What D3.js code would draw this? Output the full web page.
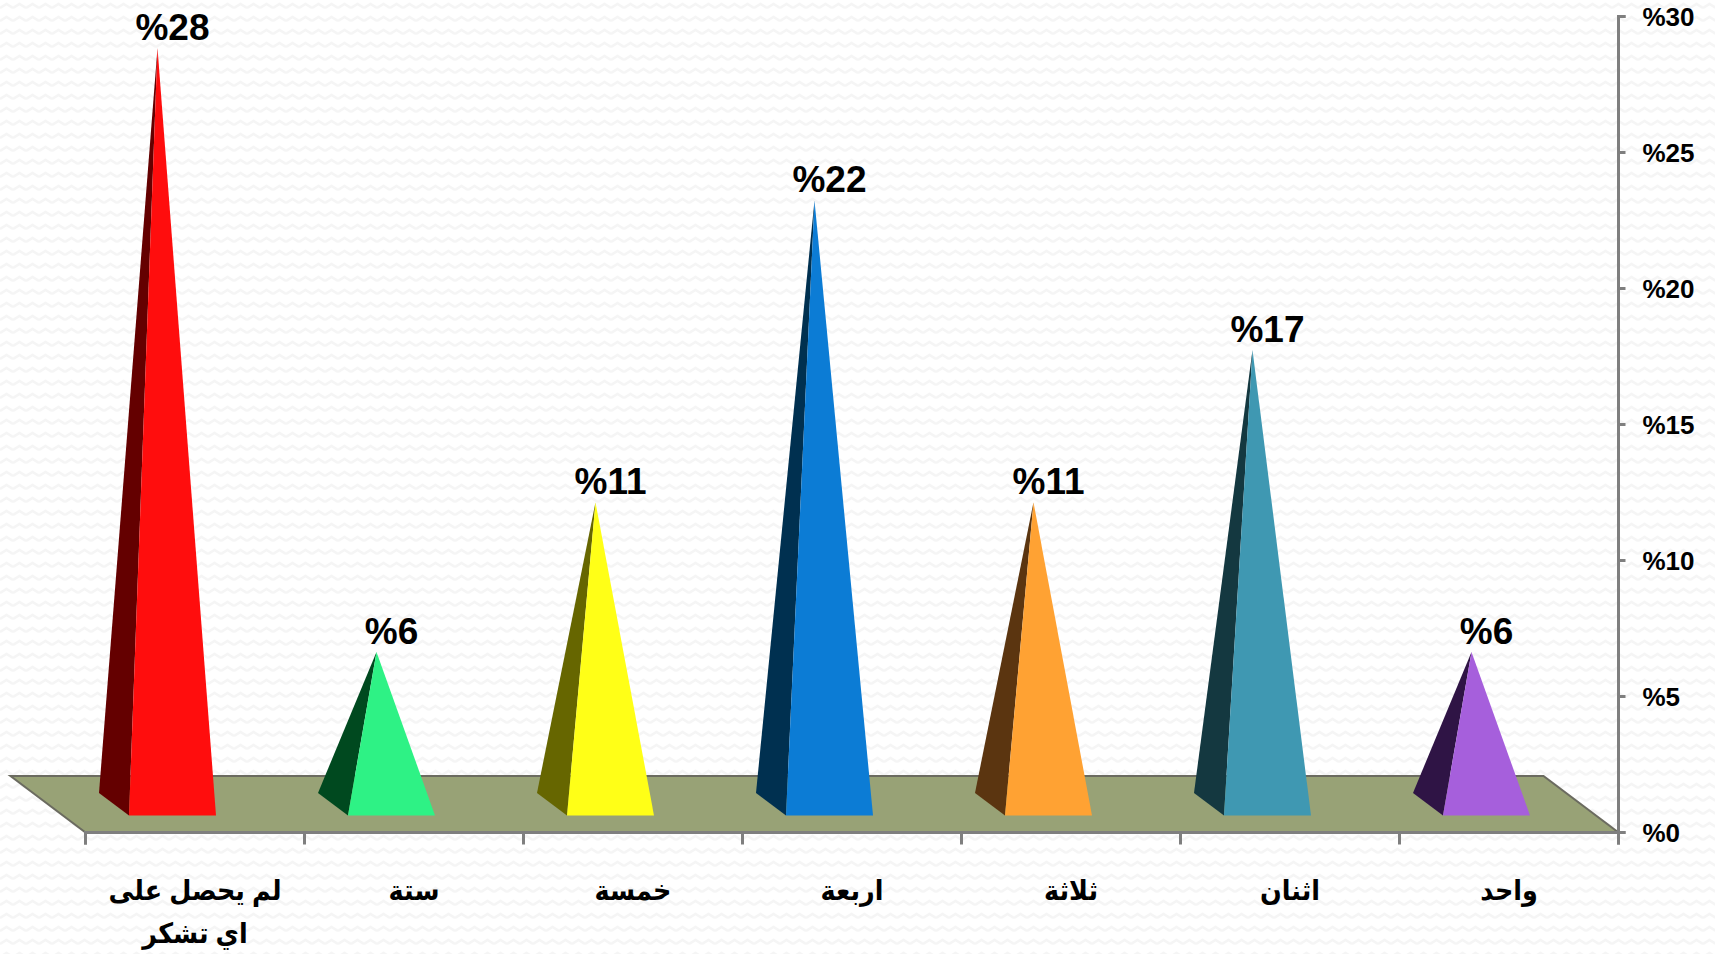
<!DOCTYPE html>
<html lang="ar">
<head>
<meta charset="UTF-8">
<title>Chart</title>
<script src="https://d3js.org/d3.v7.min.js"></script>
<style>
  html, body { margin: 0; padding: 0; background: #fff; overflow: hidden; }
  text { font-family: "Liberation Sans", "DejaVu Sans", sans-serif; font-weight: bold; fill: #000; }
</style>
</head>
<body>
<svg id="chart" width="1715" height="954"></svg>
<script>
// values
const categories = ["لم يحصل على|اي تشكر", "ستة", "خمسة", "اربعة", "ثلاثة", "اثنان", "واحد"];
const values = [27.8, 5.6, 11.1, 22.2, 11.1, 16.7, 5.6];
const valueLabels = ["%28", "%6", "%11", "%22", "%11", "%17", "%6"];
const yTicks = [0, 5, 10, 15, 20, 25, 30];
const frontColors = ["#ff0d0d", "#2ef285", "#ffff17", "#0c7cd5", "#ffa233", "#3f98b2", "#a65fdc"];
const sideColors = ["#640000", "#00491f", "#666600", "#003050", "#5b3510", "#143840", "#2f1445"];

const svg = d3.select("#chart");
const width = +svg.attr("width");
const height = +svg.attr("height");

// faint zigzag paper background
const defs = svg.append("defs");
const pat = defs.append("pattern").attr("id", "paper")
  .attr("width", 13).attr("height", 13).attr("patternUnits", "userSpaceOnUse");
pat.append("rect").attr("width", 13).attr("height", 13).attr("fill", "#ffffff");
pat.append("path").attr("d", "M0 8 L6.5 4 L13 8")
  .attr("fill", "none").attr("stroke", "#f5f5f5").attr("stroke-width", 2.5);
svg.append("rect").attr("width", width).attr("height", height).attr("fill", "url(#paper)");

const x = d3.scaleBand().domain(d3.range(categories.length)).range([85.5, 1618.5]);
const y = d3.scaleLinear().domain([0, 30]).range([832.5, 16.5]);

// oblique projection used by the fake 3D floor
const depthX = -75, depthY = -56.5;
const halfBase = 43.5;
const px = (i, off, d) => x(i) + x.bandwidth() / 2 + off + depthX * d;
const py = (v, d) => y(v) + depthY * d;

const axisColor = "#7f7f7f";

// floor
const [x0, x1] = x.range();
svg.append("polygon")
  .attr("points", [[x0, y(0)], [x1, y(0)], [x1 + depthX, y(0) + depthY], [x0 + depthX, y(0) + depthY]].join(" "))
  .attr("fill", "#98a276").attr("stroke", "#6b6b60").attr("stroke-width", 2);

// y axis on the right
const yAxis = svg.append("g").attr("transform", `translate(${x1},0)`)
  .call(d3.axisRight(y).offset(0).tickValues(yTicks).tickSize(7).tickPadding(17).tickFormat(d => "%" + d));
yAxis.selectAll("path, line").attr("stroke", axisColor).attr("stroke-width", 3);
yAxis.selectAll("text").attr("font-size", 26).attr("font-family", null).attr("direction", "ltr").attr("dy", "0.38em");

// x axis ticks at the band edges
const xAxisScale = d3.scaleLinear().domain([0, categories.length]).range([x0, x1]);
const xAxis = svg.append("g").attr("transform", `translate(0,${y(0)})`)
  .call(d3.axisBottom(xAxisScale).offset(0).ticks(categories.length).tickSize(12).tickFormat(""));
xAxis.selectAll("path, line").attr("stroke", axisColor).attr("stroke-width", 3);

// category labels, squeezed a bit since the font runs wider than the original
svg.append("g").selectAll("text").data(categories).join("text")
  .attr("text-anchor", "middle").attr("font-size", 28)
  .attr("transform", (d, i) => `translate(${x(i) + x.bandwidth() / 2},900) scale(0.91,1)`)
  .each(function (d) {
    d3.select(this).selectAll("tspan").data(d.split("|")).join("tspan")
      .attr("x", 0)
      .attr("dy", (t, k) => k === 0 ? 0 : 43)
      .text(t => t);
  });

// pyramids
const pyramids = svg.append("g").selectAll("g").data(values).join("g");
pyramids.append("polygon")
  .attr("fill", (d, i) => sideColors[i])
  .attr("points", (d, i) => [
    [px(i, -halfBase, 0.7), py(0, 0.7)],
    [px(i, -halfBase, 0.3), py(0, 0.3)],
    [px(i, 0, 0.5), py(d, 0.5)]
  ].join(" "));
pyramids.append("polygon")
  .attr("fill", (d, i) => frontColors[i])
  .attr("points", (d, i) => [
    [px(i, -halfBase, 0.3), py(0, 0.3)],
    [px(i, halfBase, 0.3), py(0, 0.3)],
    [px(i, 0, 0.5), py(d, 0.5)]
  ].join(" "));

// value labels
pyramids.append("text")
  .attr("text-anchor", "middle").attr("font-size", 37).attr("direction", "ltr")
  .attr("x", (d, i) => px(i, 0, 0.3))
  .attr("y", (d, i) => py(d, 0.5) - 8)
  .text((d, i) => valueLabels[i]);
</script>
</body>
</html>
